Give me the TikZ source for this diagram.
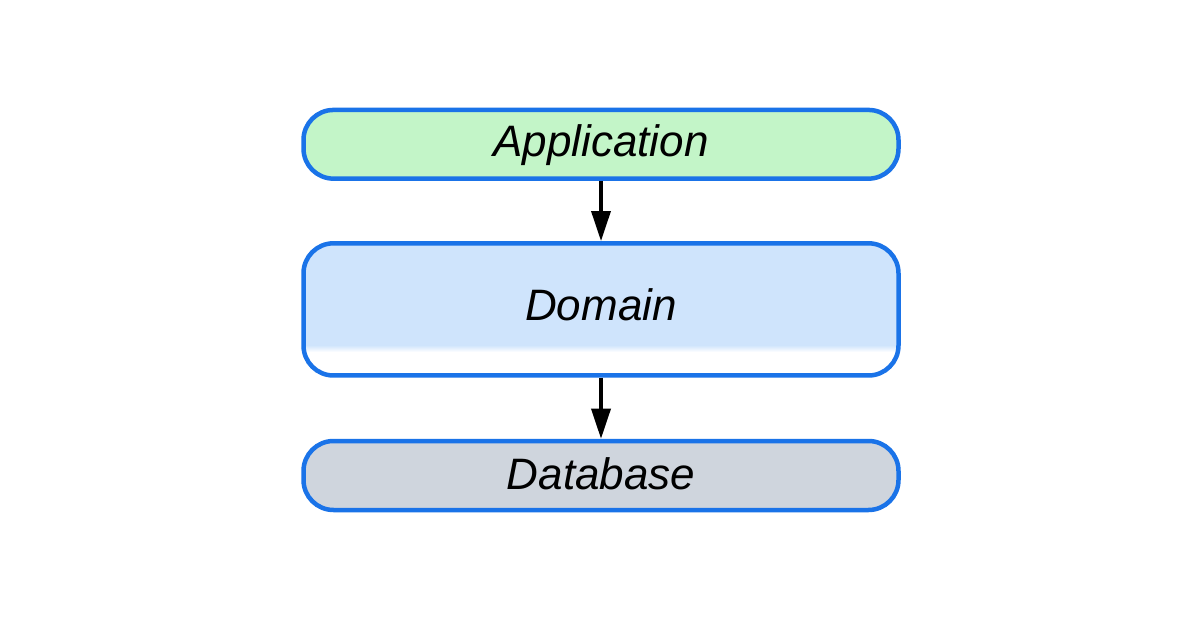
\documentclass[tikz,border=0pt]{standalone}
\usepackage{fontspec}
\setmainfont{Liberation Sans}
\usetikzlibrary{arrows.meta}

\definecolor{layerstroke}{RGB}{26,115,232}
\definecolor{appgreen}{RGB}{195,245,200}
\definecolor{domainblue}{RGB}{207,228,252}
\definecolor{dbgray}{RGB}{207,213,221}

% light blue body that fades to white near the bottom edge
\pgfdeclareverticalshading{domainfade}{100bp}{%
  color(0bp)=(white); color(33.9bp)=(white);
  color(36.5bp)=(domainblue); color(100bp)=(domainblue)}

\tikzset{
  layer/.style={draw=layerstroke, line width=4.5pt, rounded corners=30pt,
    rectangle, inner sep=0pt, minimum width=595pt},
  layertext/.style={anchor=base, inner sep=0pt,
    font=\fontsize{44}{52}\selectfont\itshape},
  dependson/.style={line width=3.5pt, -{Triangle[length=30pt,width=19pt]}}
}

\begin{document}
\begin{tikzpicture}[x=1pt,y=1pt]
  \useasboundingbox[fill=white] (0,0) rectangle (1200,630);

  \node[layer, fill=appgreen, minimum height=68.7pt] (app) at (601,485.7) {};
  \node[layer, shade, shading=domainfade, minimum height=132.2pt] (dom) at (601,320.6) {};
  \node[layer, fill=dbgray, minimum height=69pt] (db) at (601,154.5) {};

  \node[layertext] (apptext) at (601,473.5) {Application};
  \node[layertext] (domtext) at (601,309) {Domain};
  \node[layertext] (dbtext) at (601,140.5) {Database};

  \draw[dependson] (app.south) -- (dom.north);
  \draw[dependson] (dom.south) -- (db.north);
\end{tikzpicture}
\end{document}
